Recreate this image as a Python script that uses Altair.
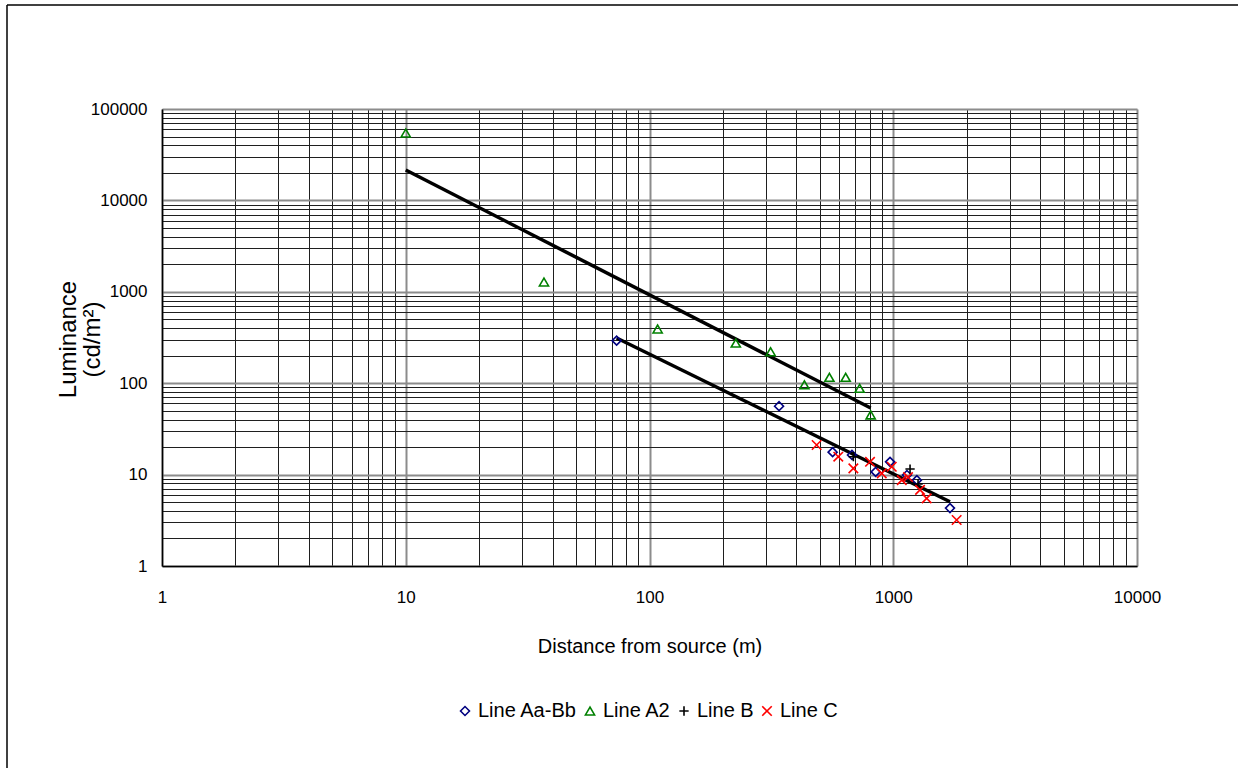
import altair as alt
import pandas as pd

# ---- data ----
aa_x = [73.3, 340, 564, 677, 847, 970, 1138, 1250, 1709]
aa_y = [292, 56, 17.6, 16.4, 10.7, 13.8, 9.9, 8.7, 4.3]

a2_x = [10, 36.9, 108, 226, 314, 432, 547, 638, 728, 808]
a2_y = [54600, 1280, 392, 275, 221, 96, 116, 116, 88, 45]

b_x = [686, 1172, 1264]
b_y = [15.7, 11.5, 7.9]

c_x = [485, 595, 686, 803, 897, 986, 1084, 1150, 1288, 1371, 1820]
c_y = [21.1, 15.7, 11.7, 13.8, 10.3, 12.2, 8.7, 9.4, 6.8, 5.5, 3.19]

fit1_x = [10, 808]
fit1_y = [21500, 53.5]
fit2_x = [73.3, 1709]
fit2_y = [312, 5.05]

series_names = ["Line Aa-Bb", "Line A2", "Line B", "Line C"]
series_colors = ["#000080", "#008000", "#000000", "#ff0000"]
series_shapes = ["diamond", "triangle-up", "M-1,0L1,0M0,-1L0,1", "M-1,-1L1,1M-1,1L1,-1"]
series_sizes = [80, 90, 170, 230]
series_strokes = [1.6, 1.6, 1.6, 2]

x_ticks = [m * 10 ** k for k in range(0, 4) for m in range(1, 10)] + [10000]
y_ticks = [m * 10 ** k for k in range(0, 5) for m in range(1, 10)] + [100000]

rows = []
for name, xs, ys in [("Line Aa-Bb", aa_x, aa_y), ("Line A2", a2_x, a2_y),
                     ("Line B", b_x, b_y), ("Line C", c_x, c_y)]:
    for xv, yv in zip(xs, ys):
        rows.append({"x": xv, "y": yv, "series": name})
pts = pd.DataFrame(rows)

fit_rows = []
for name, xs, ys in [("fit1", fit1_x, fit1_y), ("fit2", fit2_x, fit2_y)]:
    for xv, yv in zip(xs, ys):
        fit_rows.append({"x": xv, "y": yv, "fit": name})
fits = pd.DataFrame(fit_rows)

FONT = "Liberation Sans"
DEC_TEST = "indexof([1,10,100,1000,10000,100000], datum.value) >= 0"
LABEL_EXPR = DEC_TEST + " ? format(datum.value, 'd') : ''"

grid_color = {"condition": {"test": DEC_TEST, "value": "#8c8c8c"}, "value": "#1f1f1f"}
grid_width = {"condition": {"test": DEC_TEST, "value": 2}, "value": 1}

x_scale = alt.Scale(type="log", domain=[1, 10000], nice=False)
y_scale = alt.Scale(type="log", domain=[1, 100000], nice=False)

x_axis = alt.Axis(values=x_ticks, labelExpr=LABEL_EXPR, labelOverlap=False, labelFlush=False,
                  ticks=False, grid=True, gridColor=grid_color, gridWidth=grid_width,
                  domainColor="#000000", domainWidth=1.5,
                  labelFont=FONT, labelFontSize=17, labelColor="#000000", labelPadding=23,
                  title="Distance from source (m)", titleFont=FONT, titleFontSize=20,
                  titleFontWeight="normal", titleColor="#000000",
                  titleBaseline="alphabetic", titleY=86)
y_axis = alt.Axis(values=y_ticks, labelExpr=LABEL_EXPR, labelOverlap=False, labelFlush=False,
                  ticks=False, grid=True, gridColor=grid_color, gridWidth=grid_width,
                  domainColor="#000000", domainWidth=1.5,
                  labelFont=FONT, labelFontSize=17, labelColor="#000000", labelPadding=15,
                  labelBaseline="middle",
                  title=["Luminance", "(cd/m²)"], titleFont=FONT, titleFontSize=24,
                  titleFontWeight="normal", titleColor="#000000", titleAngle=-90,
                  titleBaseline="middle", titleAlign="center", titleLineHeight=24,
                  titleX=-94, titleY=230)

lines = alt.Chart(fits).mark_line(color="#000000", strokeWidth=3.5).encode(
    x=alt.X("x:Q", scale=x_scale, axis=x_axis),
    y=alt.Y("y:Q", scale=y_scale, axis=y_axis),
    detail="fit:N",
)

points = alt.Chart(pts).mark_point(filled=False, opacity=1).encode(
    x=alt.X("x:Q", scale=x_scale, axis=x_axis),
    y=alt.Y("y:Q", scale=y_scale, axis=y_axis),
    color=alt.Color("series:N", scale=alt.Scale(domain=series_names, range=series_colors),
                    legend=alt.Legend(title=None, orient="none", direction="horizontal",
                                      legendX=293, legendY=592,
                                      labelFont=FONT, labelFontSize=20, labelColor="#000000",
                                      columnPadding=3, labelOffset=3)),
    shape=alt.Shape("series:N", scale=alt.Scale(domain=series_names, range=series_shapes)),
    size=alt.Size("series:N", scale=alt.Scale(domain=series_names, range=series_sizes)),
    strokeWidth=alt.StrokeWidth("series:N", scale=alt.Scale(domain=series_names, range=series_strokes)),
)

border_df = pd.DataFrame({"k": [0]})
border_left = alt.Chart(border_df).mark_rule(color="#000000", strokeWidth=1.5).encode(
    x=alt.value(-155), y=alt.value(-104), y2=alt.value(700))
border_top = alt.Chart(border_df).mark_rule(color="#000000", strokeWidth=1.5).encode(
    x=alt.value(-155), x2=alt.value(1100), y=alt.value(-104))

chart = alt.layer(lines, points, border_left, border_top).properties(
    width=975, height=457,
    autosize=alt.AutoSizeParams(type="none"),
    padding={"left": 162, "top": 109, "right": 101, "bottom": 202},
).configure_view(stroke=None).configure(background="#ffffff")

chart.save("out.html", embed_options={"renderer": "svg", "actions": False})
